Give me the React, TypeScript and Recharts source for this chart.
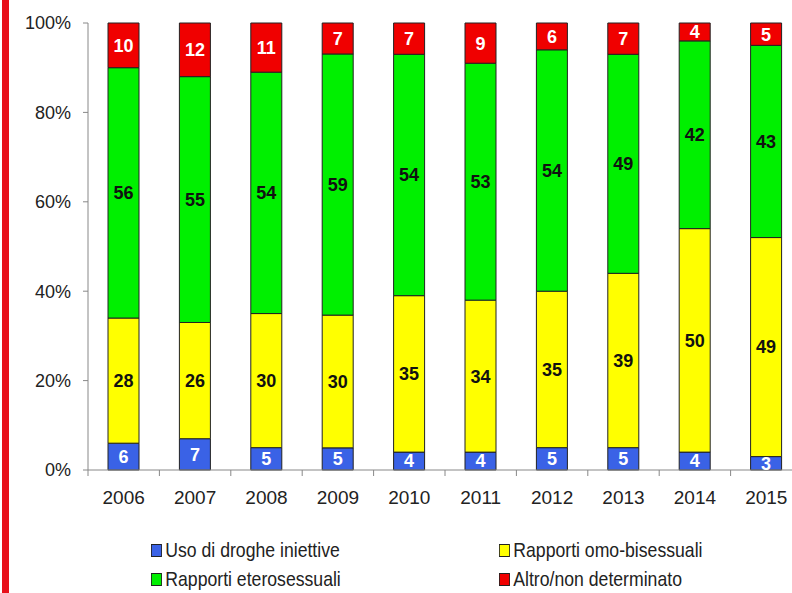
import React from "react";
import { BarChart, Bar, XAxis, YAxis, LabelList } from "recharts";

/* ─── Data (percent by transmission route) ─── */
const years = ["2006", "2007", "2008", "2009", "2010", "2011", "2012", "2013", "2014", "2015"];
const droghe = [6, 7, 5, 5, 4, 4, 5, 5, 4, 3];
const omoBisex = [28, 26, 30, 30, 35, 34, 35, 39, 50, 49];
const etero = [56, 55, 54, 59, 54, 53, 54, 49, 42, 43];
const altro = [10, 12, 11, 7, 7, 9, 6, 7, 4, 5];
const yTicks = [0, 0.2, 0.4, 0.6, 0.8, 1];

const data = years.map((year, i) => ({
  year,
  droghe: droghe[i],
  omoBisex: omoBisex[i],
  etero: etero[i],
  altro: altro[i],
}));

const series = [
  { key: "droghe", name: "Uso di droghe iniettive", color: "#3a62e6", label: "#fff" },
  { key: "omoBisex", name: "Rapporti omo-bisessuali", color: "#ffff00", label: "#111" },
  { key: "etero", name: "Rapporti eterosessuali", color: "#00f000", label: "#111" },
  { key: "altro", name: "Altro/non determinato", color: "#f00000", label: "#fff" },
];

const FONT = "'Liberation Sans', Arial, sans-serif";
const PLOT_W = 714;
const HALF_STEP = PLOT_W / years.length / 2;

// year label plus a small tick mark on the category boundary
const YearTick = (props: any) => {
  const { x, y, payload, index } = props;
  return (
    <g>
      <line x1={x + HALF_STEP} x2={x + HALF_STEP} y1={y} y2={y + 6} stroke="#888" />
      {index === 0 && <line x1={x - HALF_STEP} x2={x - HALF_STEP} y1={y} y2={y + 6} stroke="#888" />}
      <text x={x} y={y + 34} textAnchor="middle" fontSize={19} fill="#222" fontFamily={FONT}>
        {payload.value}
      </text>
    </g>
  );
};

const legendRows = [
  [series[0], series[1]],
  [series[2], series[3]],
];

export default function App() {
  return (
    <div style={{ position: "absolute", left: 0, top: 0, width: 792, height: 593, overflow: "hidden", background: "#fff", fontFamily: FONT }}>
      <div style={{ position: "absolute", left: 2, top: 0, width: 7, height: 593, background: "#e8101a" }} />
      <BarChart
        width={810}
        height={515}
        data={data}
        stackOffset="expand"
        barSize={31}
        margin={{ top: 23, right: 8, left: 0, bottom: 0 }}
      >
        <XAxis
          dataKey="year"
          stroke="#888"
          tickLine={false}
          tickSize={0}
          tickMargin={0}
          height={45}
          tick={<YearTick />}
          interval={0}
        />
        <YAxis
          width={88}
          domain={[0, 1]}
          ticks={yTicks}
          stroke="#888"
          tickSize={5}
          tickMargin={12}
          tick={{ fontSize: 18, fill: "#222", fontFamily: FONT }}
          tickFormatter={(v: number) => `${Math.round(v * 100)}%`}
        />
        {series.map((s) => (
          <Bar key={s.key} dataKey={s.key} name={s.name} stackId="a" fill={s.color} stroke="#222" strokeWidth={1} isAnimationActive={false}>
            <LabelList
              dataKey={s.key}
              position="center"
              fill={s.label}
              fontSize={18}
              fontWeight="bold"
              fontFamily={FONT}
            />
          </Bar>
        ))}
      </BarChart>
      {legendRows.map((row, r) =>
        row.map((s, c) => (
          <div
            key={s.key}
            style={{
              position: "absolute",
              left: c === 0 ? 151 : 499,
              top: r === 0 ? 538 : 567,
              display: "flex",
              alignItems: "center",
              fontSize: 21,
              color: "#222",
              whiteSpace: "nowrap",
              transform: "scaleX(0.84)",
              transformOrigin: "left center",
            }}
          >
            <span style={{ display: "inline-block", width: 11, height: 11, background: s.color, border: "1px solid #222", marginRight: 4 }} />
            <span>{s.name}</span>
          </div>
        ))
      )}
    </div>
  );
}
